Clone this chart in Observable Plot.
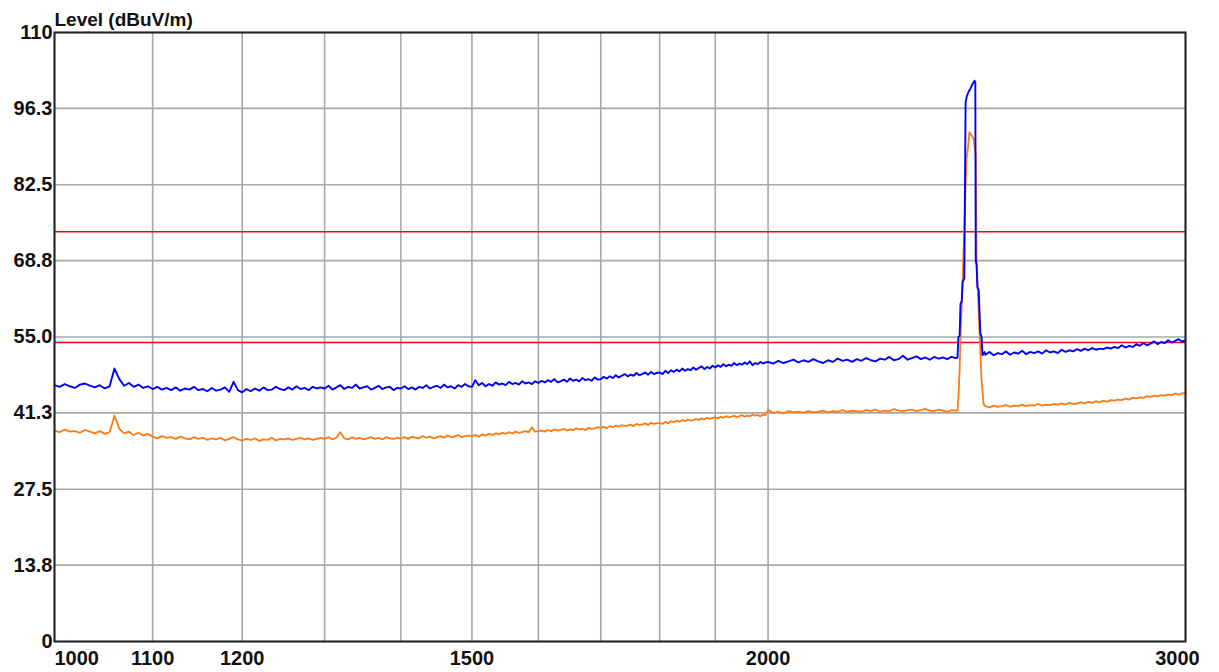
<!DOCTYPE html>
<html>
<head>
<meta charset="utf-8">
<script src="https://cdn.jsdelivr.net/npm/d3@7"></script>
<script src="https://cdn.jsdelivr.net/npm/@observablehq/plot@0.6"></script>
<style>
  html, body { margin: 0; padding: 0; background: #fff; }
  #chart svg { display: block; }
</style>
</head>
<body>
<div id="chart"></div>
<script>
// ---- Axis / reference values ----
const yTicks = [0, 13.8, 27.5, 41.3, 55.0, 68.8, 82.5, 96.3, 110];
const yTickLabels = ["0", "13.8", "27.5", "41.3", "55.0", "68.8", "82.5", "96.3", "110"];
const xGrid = [1000, 1100, 1200, 1300, 1400, 1500, 1600, 1700, 1800, 1900, 2000, 3000];
const xLabels = [1000, 1100, 1200, 1500, 2000, 3000];
const limitLines = [74, 54];
const yTitle = "Level (dBuV/m)";

// ---- Sweep segment 1: 1000-1995 MHz, 5 MHz steps ----
const sweepA = { start: 1000, step: 5 };
const blueA = [
  46.3,46.0,46.5,46.1,45.8,46.4,46.6,46.2,45.9,46.3,45.7,46.1,49.3,47.4,46.2,46.7,46.0,46.4,45.8,46.1,
  45.6,46.0,45.5,45.8,45.4,45.9,45.3,45.7,45.5,46.0,45.4,45.6,45.2,45.8,45.3,45.5,45.9,45.1,46.9,45.4,
  45.0,45.6,45.2,45.7,45.3,45.9,45.4,45.5,46.0,45.6,45.4,45.9,45.5,46.1,45.6,45.8,45.4,46.0,45.7,45.9,
  45.7,46.2,45.5,45.9,46.3,45.6,46.0,45.8,46.4,45.7,45.9,46.1,45.5,45.8,46.2,45.6,45.9,46.0,45.4,45.8,
  45.7,46.1,45.6,45.9,45.5,46.0,45.8,46.3,45.7,46.0,46.2,45.8,46.4,45.9,46.1,45.7,46.3,46.0,46.5,46.1,
  46.0,47.2,46.3,46.7,46.1,46.5,46.2,46.8,46.4,46.6,46.3,46.9,46.5,46.7,46.4,47.0,46.6,46.8,46.5,47.0,
  46.7,47.1,46.8,47.2,46.9,47.4,46.8,47.0,47.3,46.9,47.5,47.1,47.3,47.0,47.6,47.2,47.4,47.1,47.7,47.3,
  47.4,47.8,47.5,47.9,47.6,48.1,47.7,48.0,48.3,47.9,48.2,48.0,48.5,48.1,48.3,48.6,48.2,48.7,48.3,48.5,
  48.6,48.3,48.9,48.5,49.0,48.7,49.1,48.8,49.3,48.9,49.2,49.0,49.5,49.1,49.4,49.7,49.2,49.6,49.3,49.8,
  49.5,49.9,49.6,50.1,49.7,50.0,49.8,50.3,49.9,50.2,50.0,50.4,50.1,50.6,49.9,50.3,50.1,50.5,50.2,50.4
];
const orangeA = [
  38.1,37.8,38.3,37.9,38.0,37.7,38.2,37.9,37.6,38.0,37.5,37.8,40.8,38.4,37.6,37.9,37.3,37.7,37.2,37.5,
  37.0,36.7,37.1,36.8,36.9,36.6,37.0,36.7,36.5,36.9,36.6,36.8,36.4,36.7,36.5,36.8,36.3,36.6,36.9,36.5,
  36.3,36.6,36.4,36.7,36.2,36.5,36.4,36.8,36.3,36.6,36.5,36.7,36.4,36.6,36.8,36.5,36.7,36.4,36.6,36.8,
  36.6,36.9,36.5,36.8,37.8,36.7,36.5,36.9,36.6,36.8,36.5,36.7,36.9,36.6,36.8,36.5,36.9,36.7,36.6,36.8,
  36.7,36.9,36.6,37.0,36.8,36.7,37.1,36.8,37.0,36.7,36.9,37.1,36.8,37.2,36.9,37.0,37.3,36.9,37.1,37.2,
  37.1,37.3,37.0,37.4,37.2,37.5,37.3,37.6,37.4,37.7,37.5,37.8,37.6,37.9,37.7,37.8,38.0,37.8,38.7,37.9,
  38.0,38.1,37.9,38.2,38.0,38.3,38.1,38.2,38.4,38.1,38.3,38.2,38.5,38.3,38.4,38.2,38.6,38.4,38.5,38.7,
  38.6,38.8,38.5,38.9,38.7,39.0,38.8,39.1,38.9,39.0,39.2,38.9,39.3,39.1,39.2,39.4,39.1,39.5,39.3,39.4,
  39.5,39.3,39.7,39.4,39.8,39.6,39.9,39.7,40.0,39.8,40.1,39.9,40.0,40.2,40.0,40.3,40.1,40.4,40.2,40.4,
  40.5,40.3,40.6,40.4,40.7,40.5,40.6,40.8,40.5,40.7,40.9,40.6,40.8,40.7,41.0,40.8,40.9,40.7,41.0,40.9
];

// ---- Sweep segment 2: 2000-2400 MHz, 10 MHz steps ----
const sweepB = { start: 2000, step: 10 };
const blueB = [
  50.5,50.2,50.7,50.3,50.6,50.9,50.4,50.8,50.5,51.0,
  50.6,50.3,50.8,50.5,51.1,50.7,50.9,50.5,51.0,50.7,
  51.2,50.8,50.6,51.1,50.9,51.4,50.8,51.0,51.6,50.9,
  51.2,51.5,51.0,51.3,50.9,51.4,51.1,51.3,51.0,51.4,51.2
];
const orangeB = [
  41.8,41.3,41.5,41.2,41.6,41.4,41.5,41.3,41.6,41.4,
  41.5,41.7,41.4,41.6,41.5,41.8,41.5,41.7,41.6,41.5,
  41.8,41.6,41.9,41.5,41.7,41.6,42.0,41.7,41.6,41.8,
  41.9,41.6,41.8,42.0,41.7,41.6,41.9,41.7,41.5,41.8,41.7
];

// ---- Carrier near 2.44 GHz ----
const bluePeakFreq  = [2404, 2406, 2409, 2411, 2414, 2416, 2420, 2423, 2426, 2430, 2434, 2438, 2444, 2446, 2447, 2449, 2451, 2454, 2458, 2461, 2463, 2468];
const bluePeakLevel = [51.3, 55.0, 55.2, 61.0, 61.5, 65.0, 65.5, 97.4, 98.5, 99.3, 99.8, 100.5, 101.3, 101.0, 68.8, 68.0, 64.0, 63.5, 55.6, 55.0, 51.7, 52.3];
const orangePeakFreq  = [2404, 2406, 2409, 2411, 2416, 2420, 2425, 2429, 2432, 2436, 2441, 2447, 2449, 2452, 2456, 2458, 2461, 2463, 2466];
const orangePeakLevel = [41.7, 44.0, 49.0, 55.0, 65.0, 75.0, 87.0, 89.5, 92.0, 91.5, 91.0, 88.0, 68.8, 63.0, 56.0, 52.0, 47.0, 45.3, 42.8];

// ---- Sweep segment 3: 2470-3000 MHz, 10 MHz steps ----
const sweepC = { start: 2470, step: 10 };
const blueC = [
  51.8,52.3,51.7,52.1,51.9,52.4,51.8,52.2,52.0,52.5,
  51.9,52.3,52.1,52.4,52.0,52.6,52.2,52.4,52.1,52.7,
  52.3,52.6,52.4,52.8,52.5,52.9,52.6,53.0,52.7,52.9,
  52.8,53.1,52.9,53.2,53.0,53.5,53.1,53.4,53.2,53.7,
  53.4,53.9,53.5,53.8,54.2,53.7,54.1,53.9,54.4,54.0,
  54.3,54.6,54.2,54.4
];
const orangeC = [
  42.5,42.3,42.6,42.4,42.5,42.7,42.4,42.6,42.5,42.8,
  42.5,42.7,42.6,42.9,42.6,42.8,42.7,42.9,42.8,43.0,
  42.8,43.1,42.9,43.0,43.2,43.0,43.3,43.1,43.4,43.2,
  43.5,43.3,43.6,43.5,43.7,43.6,43.9,43.7,44.0,43.9,
  44.1,44.0,44.3,44.2,44.4,44.3,44.5,44.4,44.6,44.5,
  44.8,44.6,44.8,44.9
];

// ---- Assemble traces ----
function sweep(seg, levels) {
  return levels.map((v, i) => ({ f: seg.start + i * seg.step, v }));
}
function pairs(fs, vs) {
  return fs.map((f, i) => ({ f, v: vs[i] }));
}
const blueTrace = [...sweep(sweepA, blueA), ...sweep(sweepB, blueB), ...pairs(bluePeakFreq, bluePeakLevel), ...sweep(sweepC, blueC)];
const orangeTrace = [...sweep(sweepA, orangeA), ...sweep(sweepB, orangeB), ...pairs(orangePeakFreq, orangePeakLevel), ...sweep(sweepC, orangeC)];

const font = "'Liberation Sans', Arial, sans-serif";

const chart = Plot.plot({
  width: 1219,
  height: 672,
  marginTop: 32,
  marginBottom: 31,
  marginLeft: 54,
  marginRight: 34,
  style: { fontFamily: font, background: "#fff", color: "#000" },
  x: { type: "log", domain: [1000, 3000], axis: null },
  y: { domain: [0, 110], axis: null },
  marks: [
    Plot.ruleX(xGrid, { stroke: "#a8a8a8", strokeWidth: 1.6 }),
    Plot.ruleY(yTicks, { stroke: "#a8a8a8", strokeWidth: 1.6 }),
    Plot.ruleY(limitLines, { stroke: "#ff0000", strokeWidth: 1.4 }),
    Plot.line(orangeTrace, { x: "f", y: "v", stroke: "#ff7a10", strokeWidth: 1.8 }),
    Plot.line(blueTrace, { x: "f", y: "v", stroke: "#0000ff", strokeWidth: 1.9 }),
    Plot.frame({ stroke: "#222", strokeWidth: 2 }),
    Plot.text(yTicks, {
      y: d => d, text: (d, i) => yTickLabels[i], frameAnchor: "left",
      textAnchor: "end", dx: -2, fontSize: 20, fontWeight: "bold", fill: "#111"
    }),
    Plot.text(xLabels.filter(d => d === 1000), {
      x: d => d, text: d => String(d), frameAnchor: "bottom", lineAnchor: "top",
      textAnchor: "start", dy: 9, fontSize: 20, fontWeight: "bold", fill: "#111"
    }),
    Plot.text(xLabels.filter(d => d !== 1000 && d !== 3000), {
      x: d => d, text: d => String(d), frameAnchor: "bottom", lineAnchor: "top",
      dy: 9, fontSize: 20, fontWeight: "bold", fill: "#111"
    }),
    Plot.text(xLabels.filter(d => d === 3000), {
      x: d => d, text: d => String(d), frameAnchor: "bottom", lineAnchor: "top",
      dx: -8, dy: 9, fontSize: 20, fontWeight: "bold", fill: "#111"
    }),
    Plot.text([yTitle], {
      text: d => d, frameAnchor: "top-left", lineAnchor: "bottom",
      textAnchor: "start", dy: -7, fontSize: 19, fontWeight: "bold", fill: "#111"
    })
  ]
});
document.getElementById("chart").appendChild(chart);
</script>
</body>
</html>
